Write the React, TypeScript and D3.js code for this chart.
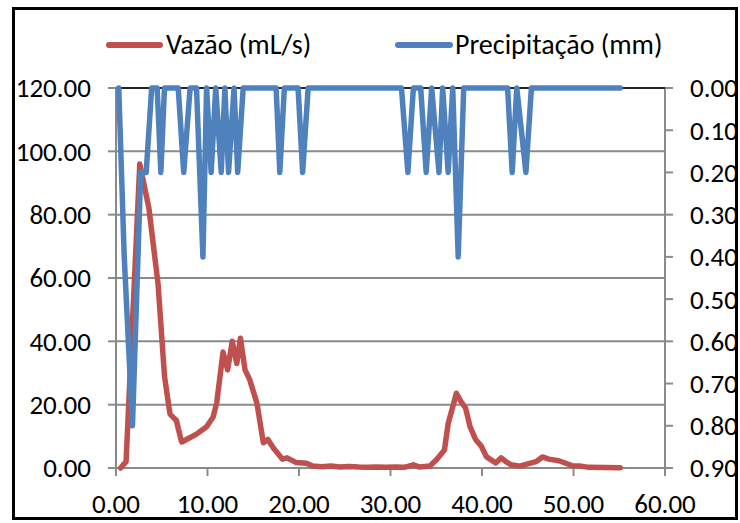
import * as d3 from "d3";
import React from "react";

// flow (mL/s) over time
const flowTime = [
  0.5, 1.1, 2.6, 3.6, 4.6, 5.3, 5.9, 6.6, 7.1, 7.2, 8.8, 9.9, 10.6, 11.0, 11.7, 12.2, 12.7, 13.2, 13.6, 14.1,
  14.6, 15.4, 16.1, 16.6, 17.2, 18.2, 18.7, 19.7, 20.8, 21.5, 22.5, 23.5, 24.5, 25.5, 26.5, 27.5, 28.5, 29.5,
  30.5, 31.5, 32.5, 33.2, 34.3, 35.0, 35.9, 36.3, 37.2, 37.7, 38.2, 38.7, 39.3, 39.9, 40.5, 41.5, 42.1, 42.6,
  43.2, 44.1, 45.9, 46.6, 47.3, 48.4, 49.9, 50.8, 51.7, 55.1,
];
const flowValue = [
  0, 2, 96, 82, 58, 29, 17, 15, 9, 8.2, 10.7, 13, 16, 20.5, 36.6, 31, 40, 33, 41, 31,
  28, 20.5, 8, 9, 6.3, 2.8, 3.2, 1.7, 1.5, 0.6, 0.4, 0.6, 0.3, 0.5, 0.3, 0.2, 0.3, 0.2,
  0.3, 0.2, 1.0, 0.3, 0.6, 2.5, 5.7, 14, 23.6, 21, 19, 13, 9, 7, 3.5, 1.6, 3.2, 2,
  1, 0.6, 2, 3.5, 2.8, 2.3, 0.7, 0.6, 0.2, 0.1,
];

// precipitation (mm) over time
const rainTime = [
  0.3, 0.9, 1.8, 2.7, 3.3, 3.9, 4.5, 4.9, 5.3, 6.8, 7.4, 8.1, 8.8, 9.5, 9.9, 10.4, 10.9, 11.5, 11.9, 12.3,
  12.9, 13.3, 13.9, 17.5, 17.9, 18.4, 19.9, 20.4, 21.0, 31.2, 31.9, 32.5, 33.3, 33.9, 34.5, 35.3, 35.7,
  36.3, 36.8, 37.4, 38.0, 42.8, 43.3, 43.8, 44.8, 45.4, 55.1,
];
const rainMm = [
  0, 0.4, 0.8, 0.2, 0.2, 0, 0, 0.2, 0, 0, 0.2, 0, 0, 0.4, 0, 0.2, 0, 0.2, 0, 0.2,
  0, 0.2, 0, 0, 0.2, 0, 0, 0.2, 0, 0, 0.2, 0, 0, 0.2, 0, 0.2, 0,
  0.2, 0, 0.4, 0, 0, 0.2, 0, 0.2, 0, 0,
];

const xTicks = [0, 10, 20, 30, 40, 50, 60];
const leftTicks = [0, 20, 40, 60, 80, 100, 120];
const rightTicks = [0, 0.1, 0.2, 0.3, 0.4, 0.5, 0.6, 0.7, 0.8, 0.9];

const RED = "#C0504D";
const BLUE = "#4F81BD";
const GRID = "#8a8a8a";
const FONT = "Calibri, Carlito, Lato, sans-serif";

export default function App() {
  const W = 740;
  const H = 523;
  const plot = { left: 116, right: 665, top: 88, bottom: 468 };

  const x = d3.scaleLinear().domain([0, 60]).range([plot.left, plot.right]);
  const yL = d3.scaleLinear().domain([0, 120]).range([plot.bottom, plot.top]);
  const yR = d3.scaleLinear().domain([0, 0.9]).range([plot.top, plot.bottom]);

  const flowLine = d3
    .line<number>()
    .x((_, i) => x(flowTime[i]))
    .y((d) => yL(d));
  const rainLine = d3
    .line<number>()
    .x((_, i) => x(rainTime[i]))
    .y((d) => yR(d));

  return (
    <svg
      width={W}
      height={H}
      style={{ position: "absolute", left: 0, top: 0, background: "#fff" }}
      fontFamily={FONT}
    >
      <rect x={0} y={0} width={W} height={H} fill="#fff" />

      {/* gridlines */}
      {leftTicks.map((t) => (
        <line key={"g" + t} x1={plot.left} x2={plot.right} y1={yL(t)} y2={yL(t)} stroke={GRID} strokeWidth={2} />
      ))}

      {/* axes */}
      <line x1={plot.left} x2={plot.left} y1={plot.top} y2={plot.bottom + 7} stroke={GRID} strokeWidth={2} />
      <line x1={plot.right} x2={plot.right} y1={plot.top} y2={plot.bottom} stroke={GRID} strokeWidth={2} />
      <line x1={plot.left - 8} x2={plot.right} y1={plot.bottom} y2={plot.bottom} stroke={GRID} strokeWidth={2} />
      <line x1={plot.left} x2={plot.right + 8} y1={plot.top} y2={plot.top} stroke="#000" strokeWidth={1.5} />

      {leftTicks.map((t) => (
        <g key={"l" + t}>
          <line x1={plot.left - 8} x2={plot.left} y1={yL(t)} y2={yL(t)} stroke={GRID} strokeWidth={2} />
          <text x={91} y={yL(t)} dy="0.35em" textAnchor="end" fontSize={27} fill="#000">
            {t.toFixed(2)}
          </text>
        </g>
      ))}
      {rightTicks.map((t) => (
        <g key={"r" + t}>
          <line x1={plot.right} x2={plot.right + 8} y1={yR(t)} y2={yR(t)} stroke={GRID} strokeWidth={2} />
          <text x={690} y={yR(t)} dy="0.35em" textAnchor="start" fontSize={27} fill="#000">
            {t.toFixed(2)}
          </text>
        </g>
      ))}
      {xTicks.map((t) => (
        <g key={"x" + t}>
          <line x1={x(t)} x2={x(t)} y1={plot.bottom} y2={plot.bottom + 8} stroke={GRID} strokeWidth={2} />
          <text x={x(t)} y={513} textAnchor="middle" fontSize={27} fill="#000">
            {t.toFixed(2)}
          </text>
        </g>
      ))}

      {/* series */}
      <path d={flowLine(flowValue) ?? ""} fill="none" stroke={RED} strokeWidth={5.5} strokeLinejoin="round" strokeLinecap="round" />
      <path d={rainLine(rainMm) ?? ""} fill="none" stroke={BLUE} strokeWidth={5.5} strokeLinejoin="round" strokeLinecap="round" />

      {/* legend */}
      <line x1={109} x2={160} y1={45} y2={45} stroke={RED} strokeWidth={6} strokeLinecap="round" />
      <text x={166} y={54} fontSize={28} fill="#000">Vazão (mL/s)</text>
      <line x1={398} x2={450} y1={45} y2={45} stroke={BLUE} strokeWidth={6} strokeLinecap="round" />
      <text x={455} y={54} fontSize={28} fill="#000">Precipitação (mm)</text>

      {/* chart border */}
      <rect x={13.5} y={8.5} width={723} height={510} fill="none" stroke="#000" strokeWidth={3} />
    </svg>
  );
}
